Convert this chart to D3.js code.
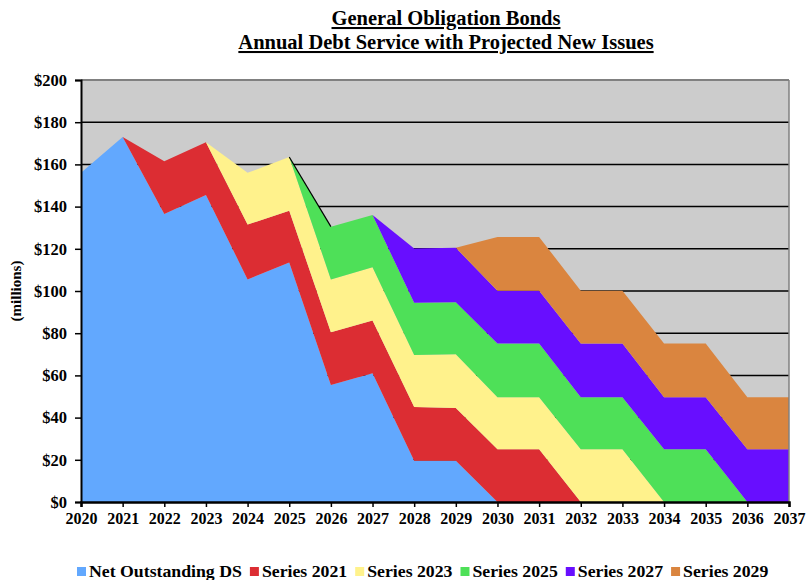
<!DOCTYPE html>
<html>
<head>
<meta charset="utf-8">
<script src="https://cdn.jsdelivr.net/npm/d3@7"></script>
<style>
  body { margin: 0; background: #fff; }
  text { font-family: "Liberation Serif", "Times New Roman", serif; font-weight: bold; fill: #000; }
</style>
</head>
<body>
<svg id="chart" width="806" height="580"></svg>
<script>
// years on the x axis
var years = [2020, 2021, 2022, 2023, 2024, 2025, 2026, 2027, 2028, 2029, 2030, 2031, 2032, 2033, 2034, 2035, 2036, 2037];

// annual debt service, $ millions
var netOutstanding = [156, 173, 136.5, 145.5, 105.5, 113.5, 55.5, 61, 19.5, 19.5, 0, 0, 0, 0, 0, 0, 0, 0];
var series2021 = [0, 0, 25, 25, 26, 24.5, 25, 25, 25.5, 25, 25, 25, 0, 0, 0, 0, 0, 0];
var series2023 = [0, 0, 0, 0, 24.5, 25.5, 25, 25.3, 24.7, 25.5, 24.7, 24.7, 25, 25, 0, 0, 0, 0];
var series2025 = [0, 0, 0, 0, 0, 0, 25, 24.7, 24.7, 24.7, 25.4, 25.4, 24.7, 24.7, 25, 25, 0, 0];
var series2027 = [0, 0, 0, 0, 0, 0, 0, 0, 25.8, 25.8, 25, 25, 25.4, 25.4, 24.7, 24.7, 25, 25];
var series2029 = [0, 0, 0, 0, 0, 0, 0, 0, 0, 0, 25.5, 25.5, 25, 25, 25.4, 25.4, 24.7, 24.7];

var seriesNames = ["Net Outstanding DS", "Series 2021", "Series 2023", "Series 2025", "Series 2027", "Series 2029"];
var seriesValues = [netOutstanding, series2021, series2023, series2025, series2027, series2029];
var colors = ["#62A8FE", "#DC2D33", "#FFF28C", "#4EE058", "#680EFF", "#DA853F"];

var yTicks = [0, 20, 40, 60, 80, 100, 120, 140, 160, 180, 200];

var svg = d3.select("#chart");

var plotLeft = 81, plotRight = 789, plotTop = 80, plotBottom = 502;

var x = d3.scaleLinear().domain([2020, 2037]).range([plotLeft, plotRight]);
var y = d3.scaleLinear().domain([0, 200]).range([plotBottom, plotTop]);

// build table for stacking
var table = years.map(function(yr, i) {
  var row = { year: yr };
  seriesNames.forEach(function(n, k) { row[n] = seriesValues[k][i]; });
  return row;
});
var stacked = d3.stack().keys(seriesNames)(table);

// plot background
svg.append("rect")
  .attr("x", plotLeft).attr("y", plotTop)
  .attr("width", plotRight - plotLeft).attr("height", plotBottom - plotTop)
  .attr("fill", "#CCCCCC");

// gridlines
svg.append("g").selectAll("line")
  .data(yTicks.filter(function(d) { return d > 0 && d < 200; }))
  .enter().append("line")
  .attr("x1", plotLeft).attr("x2", plotRight)
  .attr("y1", function(d) { return y(d); })
  .attr("y2", function(d) { return y(d); })
  .attr("stroke", "#000")
  .attr("stroke-width", 1.5);

// areas
var area = d3.area()
  .x(function(d) { return x(d.data.year); })
  .y0(function(d) { return y(d[0]); })
  .y1(function(d) { return y(d[1]); });

svg.append("g").selectAll("path")
  .data(stacked)
  .enter().append("path")
  .attr("d", area)
  .attr("fill", function(d, i) { return colors[i]; });

// thin dark edge on the first green segment, as in the original
var edge = d3.line()
  .x(function(d) { return x(d.data.year); })
  .y(function(d) { return y(d[1]); });
svg.append("path")
  .attr("d", edge(stacked[3].slice(5, 7)))
  .attr("fill", "none")
  .attr("stroke", "#000")
  .attr("stroke-width", 1.2);

// frame: grey top/right, black left/bottom
svg.append("line").attr("x1", plotLeft).attr("x2", plotRight).attr("y1", plotTop).attr("y2", plotTop)
  .attr("stroke", "#808080").attr("stroke-width", 2);
svg.append("line").attr("x1", plotRight).attr("x2", plotRight).attr("y1", plotTop).attr("y2", plotBottom)
  .attr("stroke", "#808080").attr("stroke-width", 1.5);

// y axis
var yAxis = svg.append("g")
  .attr("transform", "translate(" + plotLeft + ",0)")
  .call(d3.axisLeft(y).tickValues(yTicks).tickSize(6).tickPadding(8)
    .tickFormat(function(d) { return "$" + d; }));
yAxis.select(".domain").attr("stroke", "#000").attr("stroke-width", 2);
yAxis.selectAll(".tick line").attr("stroke", "#000").attr("stroke-width", 1.5);
yAxis.selectAll("text").style("font-size", "16.5px").attr("fill", "#000");

// x axis
var xAxis = svg.append("g")
  .attr("transform", "translate(0," + plotBottom + ")")
  .call(d3.axisBottom(x).tickValues(years).tickSize(5).tickPadding(6)
    .tickFormat(d3.format("d")));
xAxis.select(".domain").attr("stroke", "#000").attr("stroke-width", 2.5);
xAxis.selectAll(".tick line").attr("stroke", "#000").attr("stroke-width", 1.5);
xAxis.selectAll("text").style("font-size", "16px").attr("fill", "#000");

// y axis title
svg.append("text")
  .attr("transform", "translate(21,291) rotate(-90)")
  .attr("text-anchor", "middle")
  .style("font-size", "15px")
  .text("(millions)");

// title
var titleLines = ["General Obligation Bonds", "Annual Debt Service with Projected New Issues"];
svg.selectAll(".title")
  .data(titleLines)
  .enter().append("text")
  .attr("class", "title")
  .attr("x", 446)
  .attr("y", function(d, i) { return 25 + i * 24; })
  .attr("text-anchor", "middle")
  .style("font-size", "20.5px")
  .style("text-decoration", "underline")
  .text(function(d) { return d; });

// legend
var legend = svg.append("g").attr("transform", "translate(77,572)");
var lx = 0;
seriesNames.forEach(function(name, i) {
  legend.append("rect")
    .attr("x", lx).attr("y", -5)
    .attr("width", 9).attr("height", 9)
    .attr("fill", colors[i]);
  var t = legend.append("text")
    .attr("x", lx + 12).attr("y", 5)
    .style("font-size", "17.75px")
    .text(name);
  lx += 12 + t.node().getComputedTextLength() + 8;
});
</script>
</body>
</html>
